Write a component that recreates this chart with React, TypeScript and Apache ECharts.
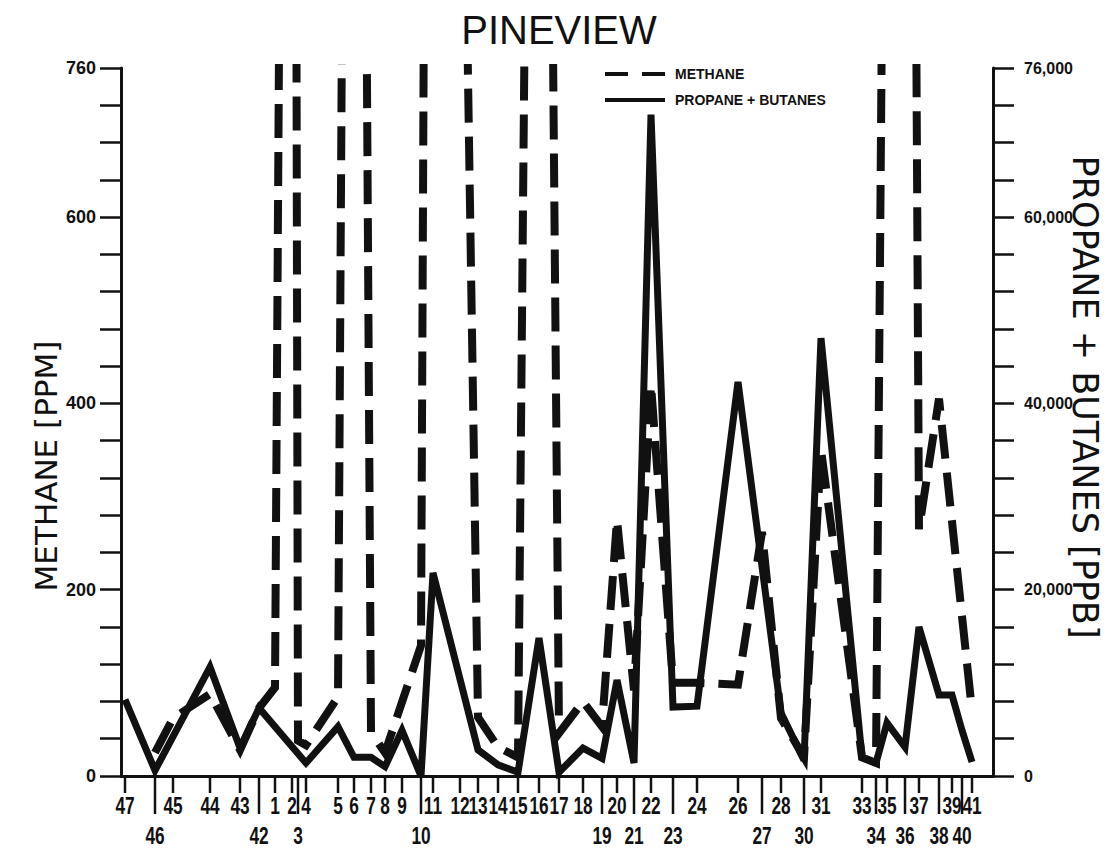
import React, { useEffect, useRef } from "react";
import * as echarts from "echarts";

// Station labels along the traverse, left to right
const stations = [
  "47", "46", "45", "44", "43", "42", "1", "2", "3", "4", "5", "6", "7", "8", "9", "10",
  "11", "12", "13", "14", "15", "16", "17", "18", "19", "20", "21", "22", "23", "24",
  "26", "27", "28", "30", "31", "33", "34", "35", "36", "37", "38", "39", "40", "41",
];

// Distance of each station along the traverse (arbitrary units)
const stationDistance = [
  0.4, 3.4, 5.2, 8.9, 11.9, 13.8, 15.4, 17.1, 17.7, 18.5, 21.7, 23.3, 25.0, 26.4, 28.1, 30.0,
  31.2, 33.9, 35.7, 37.7, 39.7, 41.8, 43.8, 46.2, 48.1, 49.6, 51.3, 53.0, 55.2, 57.6,
  61.7, 64.1, 66.0, 68.3, 70.0, 74.1, 75.5, 76.6, 78.4, 79.8, 81.8, 83.1, 84.1, 85.1,
];

// Stations whose label sits on the second (lower) row with a long tick
const lowerRowStations = ["46", "42", "3", "10", "19", "21", "23", "27", "30", "34", "36", "38", "40"];

// Methane, ppm (null = no reading plotted at that station)
const methanePpm: (number | null)[] = [
  null, 25, 62, 88, 28, 73, 95, 3000, 38, 33, 85, 3000, 47, 25, null, 140,
  3000, 1300, 63, 31, 20, 2500, 46, 80, 53, 275, 92, 420, 100, 100,
  98, 262, 62, 20, 350, 20, 14, 1500, 3000, 265, 405, null, null, 70,
];

// Propane + butanes, ppb
const propanePpb: (number | null)[] = [
  8200, 600, null, 11700, 3000, 7300, null, null, null, 1400, 5300, 2000, 2000, 1000, 4900, 0,
  21800, null, 2800, 1200, 400, 14800, 400, 3000, 1900, 10300, 1400, 71000, 7400, 7500,
  42300, null, 6800, 1700, 47000, 2000, 1400, 5700, 3100, 16000, 8700, 8700, 4900, 1500,
];

const methaneTickLabels = [0, 200, 400, 600, 760];
const propaneTickLabels = [0, 20000, 40000, 60000, 76000];

const X_MAX = 87.2;
const INK = "#111";
const SANS = "'Liberation Sans', Arial, Helvetica, sans-serif";

function pairs(vals: (number | null)[]) {
  return stations
    .map((_, i) => [stationDistance[i], vals[i]])
    .filter((p) => p[1] !== null);
}

export default function App() {
  const ref = useRef<HTMLDivElement>(null);

  useEffect(() => {
    const chart = echarts.init(ref.current!, undefined, { renderer: "svg" });
    chart.setOption({
      animation: false,
      backgroundColor: "#fff",
      title: {
        text: "PINEVIEW",
        left: "center",
        top: 5,
        textStyle: { fontSize: 40, fontWeight: "normal", color: INK, fontFamily: SANS },
      },
      grid: { left: 121, right: 125, top: 68, bottom: 75, containLabel: false, outerBoundsMode: "none" },
      xAxis: {
        type: "value",
        min: 0,
        max: X_MAX,
        axisLine: { show: true, onZero: false, lineStyle: { color: INK, width: 3 } },
        axisTick: { show: false },
        axisLabel: { show: false },
        splitLine: { show: false },
      },
      yAxis: [
        {
          type: "value",
          position: "left",
          min: 0,
          max: 760,
          interval: 40,
          axisLine: { show: true, lineStyle: { color: INK, width: 3 } },
          axisTick: { show: true, inside: false, length: 21, lineStyle: { color: INK, width: 2.5 } },
          axisLabel: {
            margin: 25,
            color: INK,
            fontSize: 18,
            fontWeight: "bold",
            fontFamily: SANS,
            showMinLabel: true,
            showMaxLabel: true,
            formatter: (v: number) => (methaneTickLabels.includes(v) ? String(v) : ""),
          },
          splitLine: { show: false },
        },
        {
          type: "value",
          position: "right",
          min: 0,
          max: 76000,
          interval: 4000,
          axisLine: { show: true, lineStyle: { color: INK, width: 3 } },
          axisTick: { show: true, inside: false, length: 21, lineStyle: { color: INK, width: 2.5 } },
          axisLabel: {
            margin: 31,
            color: INK,
            fontSize: 16,
            fontWeight: "bold",
            fontFamily: SANS,
            showMinLabel: true,
            showMaxLabel: true,
            formatter: (v: number) => (propaneTickLabels.includes(v) ? v.toLocaleString("en-US") : ""),
          },
          splitLine: { show: false },
        },
      ],
      graphic: [
        {
          type: "text",
          x: 46,
          y: 466,
          rotation: Math.PI / 2,
          style: {
            text: "METHANE [PPM]",
            fontSize: 31,
            fontFamily: "'DejaVu Sans', sans-serif",
            fill: INK,
            align: "center",
            verticalAlign: "middle",
          },
        },
        {
          type: "text",
          x: 1085,
          y: 397,
          rotation: -Math.PI / 2,
          style: {
            text: "PROPANE + BUTANES [PPB]",
            fontSize: 35,
            fontFamily: "'DejaVu Sans', sans-serif",
            fill: INK,
            align: "center",
            verticalAlign: "middle",
          },
        },
        {
          type: "line",
          shape: { x1: 605, y1: 74, x2: 665, y2: 74 },
          style: { stroke: INK, lineWidth: 4, lineDash: [23, 14] },
        },
        {
          type: "line",
          shape: { x1: 605, y1: 100, x2: 665, y2: 100 },
          style: { stroke: INK, lineWidth: 4 },
        },
        {
          type: "text",
          x: 675,
          y: 74,
          style: { text: "METHANE", fontSize: 14, fontWeight: "bold", fontFamily: SANS, fill: INK, align: "left", verticalAlign: "middle" },
        },
        {
          type: "text",
          x: 675,
          y: 100,
          style: { text: "PROPANE + BUTANES", fontSize: 14, fontWeight: "bold", fontFamily: SANS, fill: INK, align: "left", verticalAlign: "middle" },
        },
      ],
      series: [
        {
          name: "METHANE",
          type: "line",
          yAxisIndex: 0,
          data: pairs(methanePpm),
          symbol: "none",
          clip: true,
          lineStyle: { color: INK, width: 8, type: [34, 14], cap: "butt", join: "miter" },
          z: 3,
        },
        {
          name: "PROPANE + BUTANES",
          type: "line",
          yAxisIndex: 1,
          data: pairs(propanePpb),
          symbol: "none",
          clip: true,
          lineStyle: { color: INK, width: 7, type: "solid", cap: "butt", join: "miter" },
          z: 4,
        },
        {
          name: "stations",
          type: "custom",
          xAxisIndex: 0,
          yAxisIndex: 0,
          silent: true,
          clip: false,
          data: stations.map((s, i) => [stationDistance[i], 0]),
          renderItem: (params: any, api: any) => {
            const label = stations[params.dataIndex];
            const lower = lowerRowStations.includes(label);
            const p = api.coord([api.value(0), 0]);
            const len = lower ? 38 : 17;
            return {
              type: "group",
              children: [
                {
                  type: "line",
                  shape: { x1: p[0], y1: p[1], x2: p[0], y2: p[1] + len },
                  style: { stroke: INK, lineWidth: 2.5 },
                },
                {
                  type: "text",
                  x: p[0],
                  y: p[1] + (lower ? 59 : 29),
                  scaleX: 0.72,
                  style: {
                    text: label,
                    fontSize: 24,
                    fontWeight: "bold",
                    fontFamily: SANS,
                    fill: INK,
                    align: "center",
                    verticalAlign: "middle",
                  },
                },
              ],
            };
          },
          z: 5,
        },
      ],
    });
    return () => chart.dispose();
  }, []);

  return (
    <div
      ref={ref}
      style={{ position: "absolute", left: 0, top: 0, width: 1118, height: 851, background: "#fff" }}
    />
  );
}
